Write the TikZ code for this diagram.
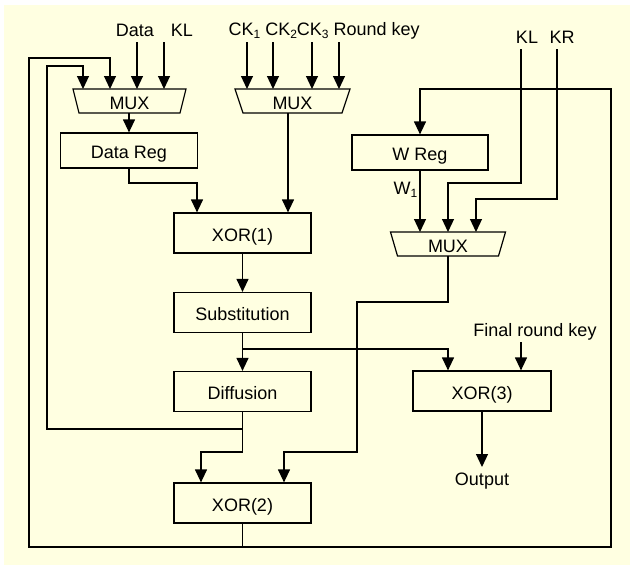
\documentclass[tikz,border=0pt]{standalone}
\usepackage{fontspec}
\setmainfont{Liberation Sans}
\usetikzlibrary{arrows.meta}
\definecolor{bgyellow}{RGB}{255,255,225}
\newcommand\sbs[1]{\raisebox{-0.35ex}{\fontsize{12pt}{12pt}\selectfont #1}}
\begin{document}
\begin{tikzpicture}[x=1pt,y=-1pt,line width=1.2pt,
  txt/.style={font=\fontsize{18pt}{21pt}\selectfont, inner sep=0pt},
  box/.style={draw, txt, text height=16pt, text depth=0pt, minimum height=40pt, minimum width=137pt},
  muxlab/.style={txt, outer sep=0pt, text height=16pt, text depth=0pt, minimum width=115pt, minimum height=24pt},
  arr/.style={-{Triangle[width=12pt,length=13pt]}},
  trap/.style={draw}
]
\useasboundingbox (0,0) rectangle (630,565);
\fill[bgyellow] (4,5) rectangle (630,565);

% boxes
\node[box, minimum height=35pt] (datareg) at (129,150.5) {Data Reg};
\node[box, minimum height=35pt, minimum width=136pt] (wreg) at (420,152.5) {W Reg};
\node[box] (xor1) at (242.5,233) {XOR(1)};
\node[box] (subst) at (242.5,312.5) {Substitution};
\node[box] (diff) at (242.5,391.5) {Diffusion};
\node[box] (xor2) at (242.5,503) {XOR(2)};
\node[box, minimum width=138pt] (xor3) at (482,391) {XOR(3)};

% multiplexers
\node[muxlab, minimum width=113pt] (mux1) at (129.5,101) {MUX};
\draw (mux1.north west) -- (mux1.north east) -- ([xshift=-6pt]mux1.south east) -- ([xshift=6pt]mux1.south west) -- cycle;
\node[muxlab] (mux2) at (292.5,101) {MUX};
\draw (mux2.north west) -- (mux2.north east) -- ([xshift=-8pt]mux2.south east) -- ([xshift=8pt]mux2.south west) -- cycle;
\node[muxlab] (mux3) at (448,244) {MUX};
\draw (mux3.north west) -- (mux3.north east) -- ([xshift=-7pt]mux3.south east) -- ([xshift=7pt]mux3.south west) -- cycle;

% labels
\node[txt, anchor=base] (data) at (135,36) {Data};
\node[txt, anchor=base] (kl1) at (182,36) {KL};
\node[txt, anchor=base west] (ck) at (228,35) {CK\sbs{1} CK\sbs{2}CK\sbs{3} Round key};
\node[txt, anchor=base] (kl2) at (527,43) {KL};
\node[txt, anchor=base] (kr) at (562,43) {KR};
\node[txt, anchor=base west] (w1) at (393,194) {W\sbs{1}};
\node[txt, anchor=base] (frk) at (535,336) {Final round key};
\node[txt, anchor=north, inner ysep=5pt] (out) at (482,467) {Output};

% input coordinates
\coordinate (inData) at (137,42);
\coordinate (inKL) at (164,42);
\coordinate (inCKa) at (247,42);
\coordinate (inCKb) at (273,42);
\coordinate (inCKc) at (312,42);
\coordinate (inRK) at (339,42);
\coordinate (inKLr) at (521,49);
\coordinate (inKR) at (557,49);
\coordinate (inFRK) at (521,342);

% inputs to MUX 1
\draw[arr] (inData) -- (inData |- mux1.north);
\draw[arr] (inKL) -- (inKL |- mux1.north);
% inputs to MUX 2
\draw[arr] (inCKa) -- (inCKa |- mux2.north);
\draw[arr] (inCKb) -- (inCKb |- mux2.north);
\draw[arr] (inCKc) -- (inCKc |- mux2.north);
\draw[arr] (inRK) -- (inRK |- mux2.north);

% data path
\draw[arr] (mux1.south -| datareg.north) -- (datareg.north);
\draw[arr] (datareg.south) -- (129,183) -| ([xshift=-45.5pt]xor1.north);
\draw[arr] ([xshift=45.5pt]xor1.north |- mux2.south) -- ([xshift=45.5pt]xor1.north);
\draw[arr] (xor1) -- (subst);
\draw[arr] (subst) -- (diff);
\coordinate (j3) at (242.5,349);
\draw[arr] (j3) -| ([xshift=-34pt]xor3.north);

% diffusion outputs
\coordinate (j1) at (242.5,429);
\draw[arr] (diff.south) -- (242.5,452) -| ([xshift=-41.5pt]xor2.north);
\draw[arr] (j1) -| (47,66) -| ([xshift=-46.5pt]mux1.north);

% xor2 feedback
\coordinate (j2) at (242.5,547);
\draw[arr] (xor2.south) -- (j2) -| (29,58) -| ([xshift=-19.5pt]mux1.north);
\draw[arr] (j2) -| (611,89) -| (wreg.north);

% W side
\draw[arr] (wreg.south) -- (wreg.south |- mux3.north);
\draw[arr] (inKLr) |- (448,183) -- (mux3.north);
\draw[arr] (inKR) |- (476,199) -- ([xshift=28pt]mux3.north);
\draw[arr] (mux3.south) |- (357,302) |- (284,452) -- ([xshift=41.5pt]xor2.north);

% final round
\draw[arr] (inFRK) -- (inFRK |- xor3.north);
\draw[arr] (xor3.south) -- (out.north);
\end{tikzpicture}
\end{document}
